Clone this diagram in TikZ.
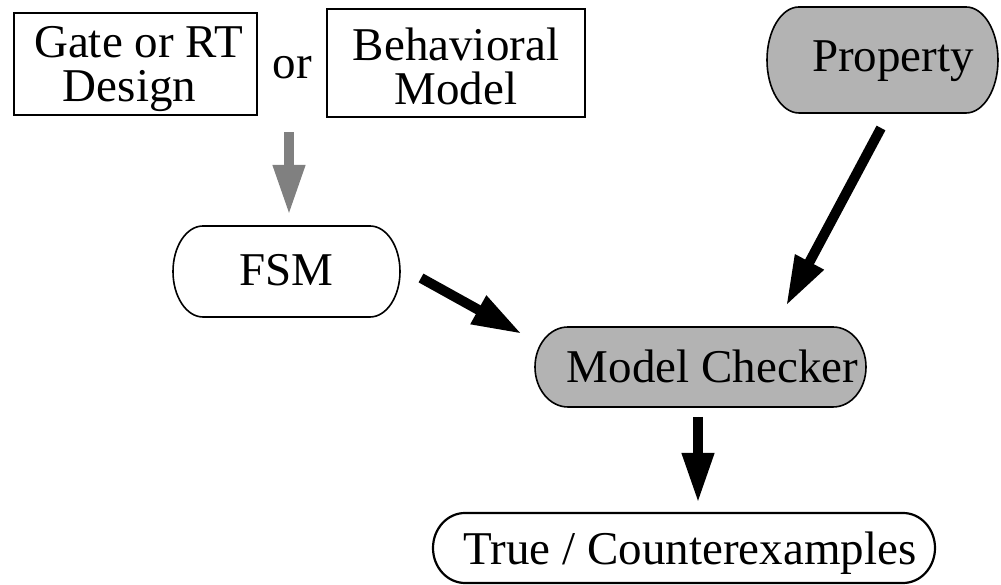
\documentclass[tikz,border=0pt]{standalone}
\usepackage{fontspec}
\setmainfont{Liberation Serif}
\usetikzlibrary{arrows.meta,calc}
\definecolor{boxgray}{HTML}{B3B3B3}
\definecolor{arrowgray}{HTML}{808080}
\pgfdeclarelayer{background}
\pgfsetlayers{background,main}
% outline with half-elliptic ends around a named node
% #1 node, #2 x radius of the ends, #3 y radius of the ends, #4 path style
\newcommand\capsulepath[4]{%
  \path[#4] ([xshift=#2]#1.north west) -- ([xshift=-#2]#1.north east)
    arc[start angle=90,end angle=-90,x radius=#2,y radius=#3]
    -- ([xshift=#2]#1.south west)
    arc[start angle=270,end angle=90,x radius=#2,y radius=#3] -- cycle;}
\begin{document}
\begin{tikzpicture}[x=1pt,y=1pt,
  every node/.style={inner sep=0pt,outer sep=0pt,font=\fontsize{47}{44}\selectfont},
  plainbox/.style={draw,line width=1.3pt,align=center},
  capsule/.style={align=center},
  bigarrow/.style={line width=10pt,-{Triangle[length=50pt,width=30pt]}},
  grayarrow/.style={bigarrow,draw=arrowgray,fill=arrowgray},
  blackarrow/.style={bigarrow,draw=black,fill=black},
]
\useasboundingbox (0,0) rectangle (1001,585);

% inputs
\node[plainbox,minimum width=243pt,minimum height=102pt,text height=81pt,text depth=5pt]
  (design) at (135.5,521) {\kern6pt Gate or RT\\Design\kern12pt};
\node[anchor=base] (or) at (292.5,506) {or};
\node[plainbox,minimum width=258pt,minimum height=108pt,text height=87pt,text depth=3pt]
  (behav) at (456,522) {Behavioral\\Model};

% capsule shaped steps
\node[capsule,minimum width=231pt,minimum height=106pt,text height=34pt,text depth=10pt]
  (prop) at (882.5,525) {\kern21pt Property};
\node[capsule,minimum width=227pt,minimum height=91pt,text height=35pt,text depth=6pt]
  (fsm) at (286.5,313.5) {FSM};
\node[capsule,minimum width=331pt,minimum height=80pt,text height=36pt,text depth=4pt]
  (mc) at (700.5,218) {\kern24pt Model Checker};
\node[capsule,minimum width=502pt,minimum height=70pt,text height=36pt,text depth=2pt]
  (tc) at (684,37) {\kern12pt True / Counterexamples};

\begin{pgfonlayer}{background}
  \capsulepath{prop}{32pt}{53pt}{draw,fill=boxgray,line width=1.6pt}
  \capsulepath{fsm}{30pt}{45.5pt}{draw,line width=1.6pt}
  \capsulepath{mc}{33pt}{40pt}{draw,fill=boxgray,line width=1.6pt}
  \capsulepath{tc}{32pt}{35pt}{draw,line width=2.2pt}
\end{pgfonlayer}

% connectors
\draw[grayarrow] ($(or.south)+(-3.5,-53)$) -- ($(fsm.north)+(2.5,11)$);
\draw[blackarrow] ($(fsm.east)+(21,-6.5)$) -- ($(mc.west)+(-13,33)$);
\draw[blackarrow] ($(prop.south)+(-1.5,-15)$) -- ($(mc.north)+(85.5,21)$);
\draw[blackarrow] ($(mc.south)+(-2.5,-10)$) -- ($(tc.north)+(14,10)$);
\end{tikzpicture}
\end{document}
